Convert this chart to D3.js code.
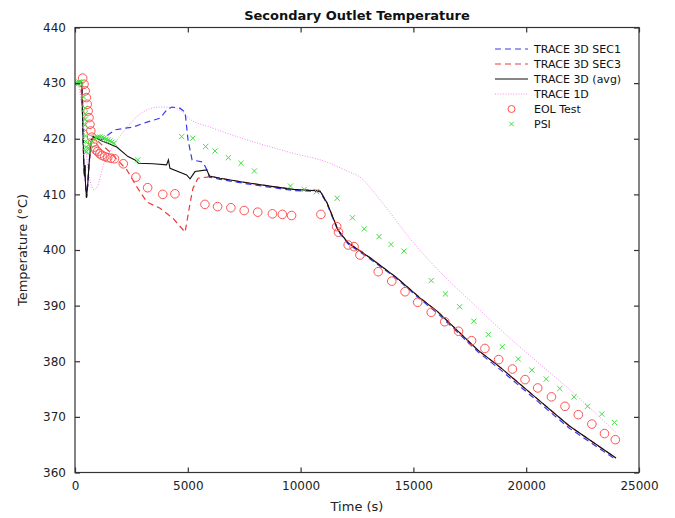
<!DOCTYPE html>
<html>
<head>
<meta charset="utf-8">
<script src="https://cdn.jsdelivr.net/npm/d3@7"></script>
<style>
  html, body { margin: 0; padding: 0; background: #fff; }
  svg { display: block; font-family: "DejaVu Sans", sans-serif; }
</style>
</head>
<body>
<svg id="chart" width="675" height="518"></svg>
<script>
// ---------- data (time s, temperature °C) ----------
const title = "Secondary Outlet Temperature";
const xLabel = "Time (s)";
const yLabel = "Temperature (°C)";
const xTicks = [0, 5000, 10000, 15000, 20000, 25000];
const yTicks = [360, 370, 380, 390, 400, 410, 420, 430, 440];
const seriesNames = ["TRACE 3D SEC1", "TRACE 3D SEC3", "TRACE 3D (avg)", "TRACE 1D", "EOL Test", "PSI"];

const trace3dSec1 = [
  [100, 430.0], [300, 430.0], [360, 420.0], [390, 415.5], [420, 413.2], [440, 415.3], [465, 412.0],
  [510, 409.4], [560, 411.5], [620, 415.3], [710, 419.5], [800, 420.3], [1000, 419.9], [1240, 419.9],
  [1500, 420.8], [1770, 421.6], [2220, 421.9], [2570, 422.1], [3190, 423.0], [3770, 423.7],
  [3950, 424.6], [4080, 425.2], [4290, 425.7], [4650, 425.5], [4880, 424.8], [5010, 419.8],
  [5190, 416.2], [5670, 415.8], [5900, 414.0], [5960, 413.1], [6430, 412.7], [7610, 411.9],
  [8790, 411.2], [9680, 410.7], [10860, 410.5], [11170, 408.3], [11660, 403.4], [12100, 401.1],
  [13080, 398.4], [14270, 394.8], [15290, 391.2], [16050, 388.7], [16930, 385.3], [17860, 381.7],
  [18880, 378.4], [20390, 373.2], [21900, 368.0], [23980, 362.3]
];
const trace3dSec3 = [
  [100, 430.0], [300, 430.0], [360, 420.0], [390, 415.5], [420, 413.2], [440, 415.3], [465, 412.0],
  [510, 409.4], [560, 411.5], [620, 415.3], [710, 419.5], [800, 420.3], [1000, 419.6], [1250, 418.7],
  [1550, 417.6], [2300, 414.4], [2750, 411.3], [3190, 408.6], [3770, 407.5], [4340, 405.7],
  [4880, 403.2], [5100, 408.4], [5230, 411.1], [5450, 412.9], [5850, 413.1], [6000, 413.2],
  [6430, 412.9], [7610, 412.1], [8790, 411.4], [9680, 410.9], [10860, 410.7], [11170, 408.5],
  [11660, 403.6], [12100, 401.3], [13080, 398.6], [14270, 395.0], [15290, 391.4], [16050, 389.0],
  [16930, 385.6], [17860, 382.0], [18880, 378.8], [20390, 373.6], [21900, 368.4], [23980, 362.6]
];
const trace3dAvg = [
  [100, 430.0], [300, 430.0], [360, 420.0], [390, 415.5], [420, 413.2], [440, 415.3], [465, 412.0],
  [510, 409.4], [560, 411.5], [620, 415.3], [710, 419.5], [800, 420.4], [1000, 420.0], [1200, 419.6],
  [1500, 419.1], [1850, 418.5], [2350, 416.8], [2660, 416.2], [2810, 415.6], [3460, 415.5],
  [4060, 415.3], [4140, 416.2], [4210, 414.7], [4950, 413.5], [5100, 412.8], [5320, 414.1],
  [5840, 414.4], [5960, 413.3], [6430, 412.9], [7610, 412.1], [8790, 411.4], [9680, 410.9],
  [10860, 410.6], [11170, 408.5], [11660, 403.6], [12100, 401.3], [13080, 398.6], [14270, 395.0],
  [15290, 391.4], [16050, 389.0], [16930, 385.6], [17860, 382.0], [18880, 378.8], [20390, 373.6],
  [21900, 368.4], [23980, 362.6]
];
const trace1d = [
  [0, 430.0], [150, 429.5], [300, 426.0], [420, 421.0], [550, 415.5], [700, 412.0], [850, 410.8],
  [1000, 411.5], [1240, 415.0], [1700, 418.7], [2130, 421.2], [2750, 424.0], [3320, 425.4],
  [3770, 425.7], [4340, 425.6], [4700, 425.0], [5100, 423.5], [5980, 422.1], [7620, 419.8],
  [9660, 417.4], [11170, 415.8], [12060, 414.2], [12630, 413.1], [13520, 409.0], [15000, 401.3],
  [16490, 394.8], [17400, 391.3], [19400, 383.7], [20400, 380.2], [21900, 375.0], [23980, 367.2]
];
const eolTest = [
  [340, 430.9], [400, 429.8], [450, 428.6], [500, 427.4], [540, 426.2], [580, 425.0], [620, 423.8],
  [660, 422.6], [700, 421.4], [740, 420.3], [790, 419.3], [850, 418.5], [920, 418.0], [1000, 417.7],
  [1100, 417.3], [1200, 417.0], [1320, 416.8], [1450, 416.6], [1600, 416.5], [1750, 416.4],
  [2140, 415.5], [2700, 413.1], [3220, 411.2], [3890, 410.0], [4430, 410.1], [5760, 408.2],
  [6320, 407.8], [6910, 407.6], [7500, 407.1], [8100, 406.8], [8750, 406.5], [9190, 406.4],
  [9600, 406.2], [10900, 406.4], [11600, 404.2], [11680, 403.2], [12110, 400.9], [12370, 400.6],
  [12630, 399.1], [13440, 396.1], [14040, 394.4], [14630, 392.5], [15190, 390.6], [15790, 388.8],
  [16390, 387.1], [17000, 385.4], [17580, 383.7], [18170, 382.3], [18780, 380.3], [19390, 378.6],
  [19950, 376.7], [20510, 375.2], [21120, 373.6], [21720, 371.9], [22310, 370.4], [22910, 368.7],
  [23470, 367.0], [23950, 365.9]
];
const psi = [
  [0, 429.9], [60, 430.0], [120, 430.1], [180, 430.2], [240, 430.1], [300, 429.7], [380, 427.5],
  [440, 425.5], [445, 424.5], [450, 423.5], [455, 422.5], [460, 421.5], [465, 420.5], [470, 419.5],
  [475, 418.5], [480, 417.6], [520, 417.7], [575, 418.3], [665, 419.0], [755, 419.6], [840, 420.0],
  [930, 420.2], [1020, 420.3], [1110, 420.3], [1200, 420.2], [1290, 420.1], [1375, 419.9],
  [1460, 419.8], [1550, 419.6], [1640, 419.4], [1730, 419.2], [2780, 416.2], [4730, 420.4],
  [5220, 420.1], [5790, 418.6], [6210, 417.8], [6800, 416.6], [7360, 415.6], [7950, 414.2],
  [9550, 411.5], [10160, 410.9], [10710, 410.5], [11620, 409.3], [12300, 405.8], [12820, 403.8],
  [13480, 402.4], [14010, 401.0], [14580, 399.8], [15790, 394.5], [16420, 392.1], [17050, 389.8],
  [17680, 387.2], [18320, 384.8], [18940, 382.6], [19650, 380.4], [20250, 378.4], [20890, 376.8],
  [21490, 375.1], [22120, 373.6], [22720, 371.9], [23350, 370.5], [23910, 369.0]
];

// ---------- layout ----------
const svg = d3.select("#chart");
const m = { left: 75, right: 639, top: 27.5, bottom: 472.5 };
const x = d3.scaleLinear().domain([0, 25000]).range([m.left, m.right]);
const y = d3.scaleLinear().domain([360, 440]).range([m.bottom, m.top]);
const axisColor = "#333";

const colors = {
  sec1: "#3a3af0",
  sec3: "#f03a3a",
  avg: "#111",
  one: "#f08cf0",
  eol: "#ff5252",
  psi: "#40e040"
};

svg.append("defs").append("clipPath").attr("id", "clip")
  .append("rect").attr("x", m.left).attr("y", m.top)
  .attr("width", m.right - m.left).attr("height", m.bottom - m.top);

const plot = svg.append("g").attr("clip-path", "url(#clip)");
const line = d3.line().x(d => x(d[0])).y(d => y(d[1]));

plot.append("path").datum(trace1d).attr("d", line.curve(d3.curveMonotoneX))
  .attr("fill", "none").attr("stroke", colors.one).attr("stroke-width", 1)
  .attr("stroke-dasharray", "1,1.6");
line.curve(d3.curveLinear);
plot.append("path").datum(trace3dSec3).attr("d", line)
  .attr("fill", "none").attr("stroke", colors.sec3).attr("stroke-width", 1.2)
  .attr("stroke-dasharray", "6,4");
plot.append("path").datum(trace3dSec1).attr("d", line)
  .attr("fill", "none").attr("stroke", colors.sec1).attr("stroke-width", 1.2)
  .attr("stroke-dasharray", "6,4");
plot.append("path").datum(trace3dAvg).attr("d", line)
  .attr("fill", "none").attr("stroke", colors.avg).attr("stroke-width", 1.1);

plot.append("g").selectAll("circle").data(eolTest).join("circle")
  .attr("cx", d => x(d[0])).attr("cy", d => y(d[1])).attr("r", 4.3)
  .attr("fill", "none").attr("stroke", colors.eol).attr("stroke-width", 1);

const xs = 2.6;
plot.append("g").selectAll("path").data(psi).join("path")
  .attr("d", d => {
    const cx = x(d[0]), cy = y(d[1]);
    return `M${cx - xs},${cy - xs}L${cx + xs},${cy + xs}M${cx - xs},${cy + xs}L${cx + xs},${cy - xs}`;
  })
  .attr("fill", "none").attr("stroke", colors.psi).attr("stroke-width", 1);

// ---------- axes (box with inward ticks) ----------
const tickLen = 5;
const axes = svg.append("g");
axes.append("rect").attr("x", m.left).attr("y", m.top)
  .attr("width", m.right - m.left).attr("height", m.bottom - m.top)
  .attr("fill", "none").attr("stroke", axisColor).attr("stroke-width", 1.2);

const bottomAxis = d3.axisBottom(x).tickValues(xTicks).tickSizeInner(-tickLen).tickSizeOuter(0)
  .tickPadding(9).tickFormat(d3.format("d"));
const gx = axes.append("g").attr("transform", `translate(0,${m.bottom})`).call(bottomAxis);
const topAxis = d3.axisTop(x).tickValues(xTicks).tickSizeInner(-tickLen).tickSizeOuter(0).tickFormat("");
const gxt = axes.append("g").attr("transform", `translate(0,${m.top})`).call(topAxis);
const leftAxis = d3.axisLeft(y).tickValues(yTicks).tickSizeInner(-tickLen).tickSizeOuter(0)
  .tickPadding(9).tickFormat(d3.format("d"));
const gy = axes.append("g").attr("transform", `translate(${m.left},0)`).call(leftAxis);
const rightAxis = d3.axisRight(y).tickValues(yTicks).tickSizeInner(-tickLen).tickSizeOuter(0).tickFormat("");
const gyr = axes.append("g").attr("transform", `translate(${m.right},0)`).call(rightAxis);

[gx, gxt, gy, gyr].forEach(g => {
  g.select(".domain").remove();
  g.selectAll(".tick line").attr("stroke", axisColor).attr("stroke-width", 1.2);
  g.selectAll(".tick text").attr("fill", "#222").attr("font-size", 12)
    .attr("font-family", "'DejaVu Sans', sans-serif");
});

// ---------- titles ----------
svg.append("text").attr("x", (m.left + m.right) / 2).attr("y", 20)
  .attr("text-anchor", "middle").attr("font-size", 13).attr("font-weight", "bold")
  .attr("fill", "#111").text(title);
svg.append("text").attr("x", (m.left + m.right) / 2).attr("y", 511)
  .attr("text-anchor", "middle").attr("font-size", 13).attr("fill", "#222").text(xLabel);
svg.append("text").attr("transform", `translate(27,${(m.top + m.bottom) / 2}) rotate(-90)`)
  .attr("text-anchor", "middle").attr("font-size", 13).attr("fill", "#222").text(yLabel);

// ---------- legend ----------
const legend = svg.append("g");
const lx0 = 495, lx1 = 528, tx = 534, ly0 = 49, dy = 15;
const legendStyles = [
  { type: "line", color: colors.sec1, dash: "6,4", w: 1.2 },
  { type: "line", color: colors.sec3, dash: "6,4", w: 1.2 },
  { type: "line", color: colors.avg, dash: null, w: 1.2 },
  { type: "line", color: colors.one, dash: "1,1.6", w: 1 },
  { type: "circle", color: colors.eol },
  { type: "x", color: colors.psi }
];
seriesNames.forEach((name, i) => {
  const yy = ly0 + i * dy;
  const st = legendStyles[i];
  if (st.type === "line") {
    legend.append("line").attr("x1", lx0).attr("x2", lx1).attr("y1", yy).attr("y2", yy)
      .attr("stroke", st.color).attr("stroke-width", st.w)
      .attr("stroke-dasharray", st.dash);
  } else if (st.type === "circle") {
    legend.append("circle").attr("cx", (lx0 + lx1) / 2).attr("cy", yy).attr("r", 3.5)
      .attr("fill", "none").attr("stroke", st.color).attr("stroke-width", 1);
  } else {
    const cx = (lx0 + lx1) / 2, s = 2.3;
    legend.append("path")
      .attr("d", `M${cx - s},${yy - s}L${cx + s},${yy + s}M${cx - s},${yy + s}L${cx + s},${yy - s}`)
      .attr("stroke", st.color).attr("stroke-width", 1);
  }
  legend.append("text").attr("x", tx).attr("y", yy).attr("dy", "0.35em")
    .attr("font-size", 11).attr("fill", "#111").text(name);
});
</script>
</body>
</html>
